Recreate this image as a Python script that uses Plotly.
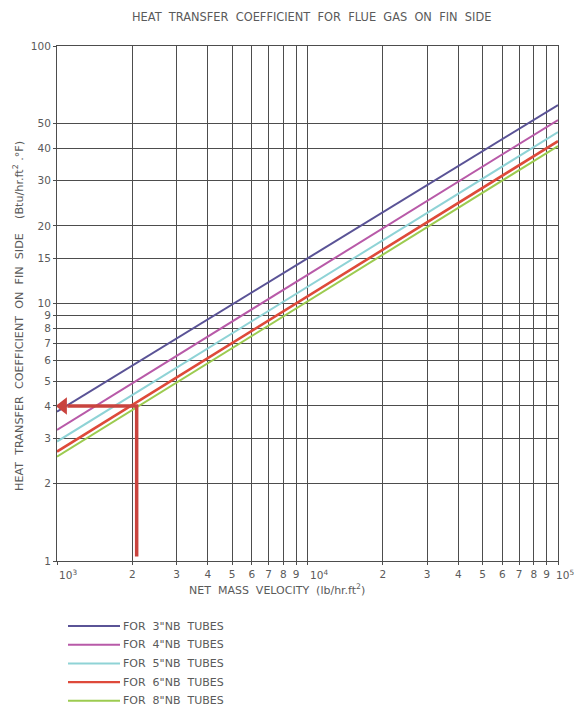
import math
import plotly.graph_objects as go

# ---- data ----
mass_velocity = [1000, 100000]          # lb/hr.ft2 (line end points, straight lines on log-log)
series_names = ['FOR\u00a0\u00a03"NB\u00a0\u00a0TUBES', 'FOR\u00a0\u00a04"NB\u00a0\u00a0TUBES',
                'FOR\u00a0\u00a05"NB\u00a0\u00a0TUBES', 'FOR\u00a0\u00a06"NB\u00a0\u00a0TUBES',
                'FOR\u00a0\u00a08"NB\u00a0\u00a0TUBES']
h_3nb = [3.8, 59.0]
h_4nb = [3.23, 51.6]
h_5nb = [2.91, 46.3]
h_6nb = [2.66, 42.7]
h_8nb = [2.54, 40.9]
series_values = [h_3nb, h_4nb, h_5nb, h_6nb, h_8nb]
series_colors = ["#5a5396", "#b85aa8", "#8fd3d6", "#de4a3a", "#9ccb50"]
series_widths = [2, 2, 2, 2.6, 2]

# example reading (red arrow)
reading_x = 2080
reading_h = 4.0
reading_start_h = 1.04
arrow_tip_x = 1058

NB = "\u00a0"
x_tickvals = [1000, 2000, 3000, 4000, 5000, 6000, 7000, 8000, 9000,
              10000, 20000, 30000, 40000, 50000, 60000, 70000, 80000, 90000, 100000]
x_ticktext = ["", "2", "3", "4", "5", "6", "7", "8", "9",
              "", "2", "3", "4", "5", "6", "7", "8", "9", ""]
x_power_vals = [1000, 10000, 100000]
x_power_text = ["10<sup>3</sup>", "10<sup>4</sup>", "10<sup>5</sup>"]
y_tickvals = [1, 2, 3, 4, 5, 6, 7, 8, 9, 10, 15, 20, 30, 40, 50, 100]
y_ticktext = [str(v) for v in y_tickvals]

W, H = 577, 709
L, R, T, B = 57, 19, 46, 148
pw, ph = W - L - R, H - T - B

def px_x(p):
    return (p - L) / pw

def px_y(p):
    return (H - B - p) / ph

FONT = "DejaVu Sans, Liberation Sans, sans-serif"
TXT = "#5a5a5a"
GRID = "#4d4d4d"
RED = "#c9433e"
S2 = NB * 2

fig = go.Figure()
for name, vals, col, w in zip(series_names, series_values, series_colors, series_widths):
    fig.add_trace(go.Scatter(x=mass_velocity, y=vals, mode="lines", name=name,
                             line=dict(color=col, width=w), showlegend=False))

# red reading line + arrowhead
fig.add_trace(go.Scatter(x=[reading_x, reading_x, 1100], y=[reading_start_h, reading_h, reading_h],
                         mode="lines", line=dict(color=RED, width=3.5),
                         showlegend=False, hoverinfo="skip"))
fig.add_trace(go.Scatter(x=[arrow_tip_x], y=[reading_h], mode="markers",
                         marker=dict(symbol="triangle-left", size=15, color=RED),
                         showlegend=False, hoverinfo="skip", cliponaxis=False))

# power-of-ten tick labels, drawn just right of their ticks (last one kept inside the page)
for i, (v, t) in enumerate(zip(x_power_vals, x_power_text)):
    last = i == len(x_power_vals) - 1
    fig.add_annotation(text=t, xref="x", yref="paper", x=math.log10(v), y=px_y(574),
                       xanchor="right" if last else "left", yanchor="middle",
                       xshift=17 if last else 1, borderpad=0, showarrow=False,
                       font=dict(family=FONT, size=10.5, color=TXT))

# manual legend below the chart
legend_top = 626
legend_step = 18.7
for i, (name, col, w) in enumerate(zip(series_names, series_colors, series_widths)):
    yy = px_y(legend_top + i * legend_step)
    fig.add_shape(type="line", xref="paper", yref="paper", x0=px_x(68), x1=px_x(120),
                  y0=yy, y1=yy, line=dict(color=col, width=2 if w < 2.5 else 2.4))
    fig.add_annotation(text=name, xref="paper", yref="paper", x=px_x(121), y=yy,
                       xanchor="left", yanchor="middle", showarrow=False,
                       font=dict(family=FONT, size=11, color=TXT))

fig.add_annotation(text=S2.join("HEAT TRANSFER COEFFICIENT FOR FLUE GAS ON FIN SIDE".split()),
                   xref="paper", yref="paper", x=px_x(311), y=px_y(17),
                   xanchor="center", yanchor="middle",
                   showarrow=False, font=dict(family=FONT, size=11.4, color=TXT))
fig.add_annotation(text=S2.join("HEAT TRANSFER COEFFICIENT ON FIN SIDE".split()) + S2 + S2
                   + "(Btu/hr.ft<sup>2</sup>" + NB + ".°F)",
                   xref="paper", yref="paper", x=px_x(18), y=px_y(316), textangle=-90,
                   xanchor="center", yanchor="middle",
                   showarrow=False, font=dict(family=FONT, size=11.2, color=TXT))
fig.add_annotation(text=S2.join("NET MASS VELOCITY".split()) + S2 + "(lb/hr.ft<sup>2</sup>)",
                   xref="paper", yref="paper", x=px_x(277), y=px_y(589),
                   xanchor="center", yanchor="middle",
                   showarrow=False, font=dict(family=FONT, size=11, color=TXT))

fig.update_xaxes(type="log", range=[3, 5], tickvals=x_tickvals, ticktext=x_ticktext,
                 tickangle=0, automargin=False,
                 showgrid=True, gridcolor=GRID, gridwidth=1, showline=True, linecolor=GRID,
                 linewidth=1, mirror=True, ticks="outside", ticklen=3, tickcolor=GRID,
                 tickfont=dict(family=FONT, size=10.5, color=TXT), zeroline=False)
fig.update_yaxes(type="log", range=[0, 2], tickvals=y_tickvals, ticktext=y_ticktext,
                 automargin=False,
                 showgrid=True, gridcolor=GRID, gridwidth=1, showline=True, linecolor=GRID,
                 linewidth=1, mirror=True, ticks="outside", ticklen=3, tickcolor=GRID,
                 tickfont=dict(family=FONT, size=10.5, color=TXT), zeroline=False)

fig.update_layout(width=W, height=H, margin=dict(l=L, r=R, t=T, b=B, pad=0),
                  paper_bgcolor="white", plot_bgcolor="white", showlegend=False)

fig.write_html("out.html", config={"displayModeBar": False},
               post_script="document.body.style.margin='0';document.body.style.overflow='hidden';")
